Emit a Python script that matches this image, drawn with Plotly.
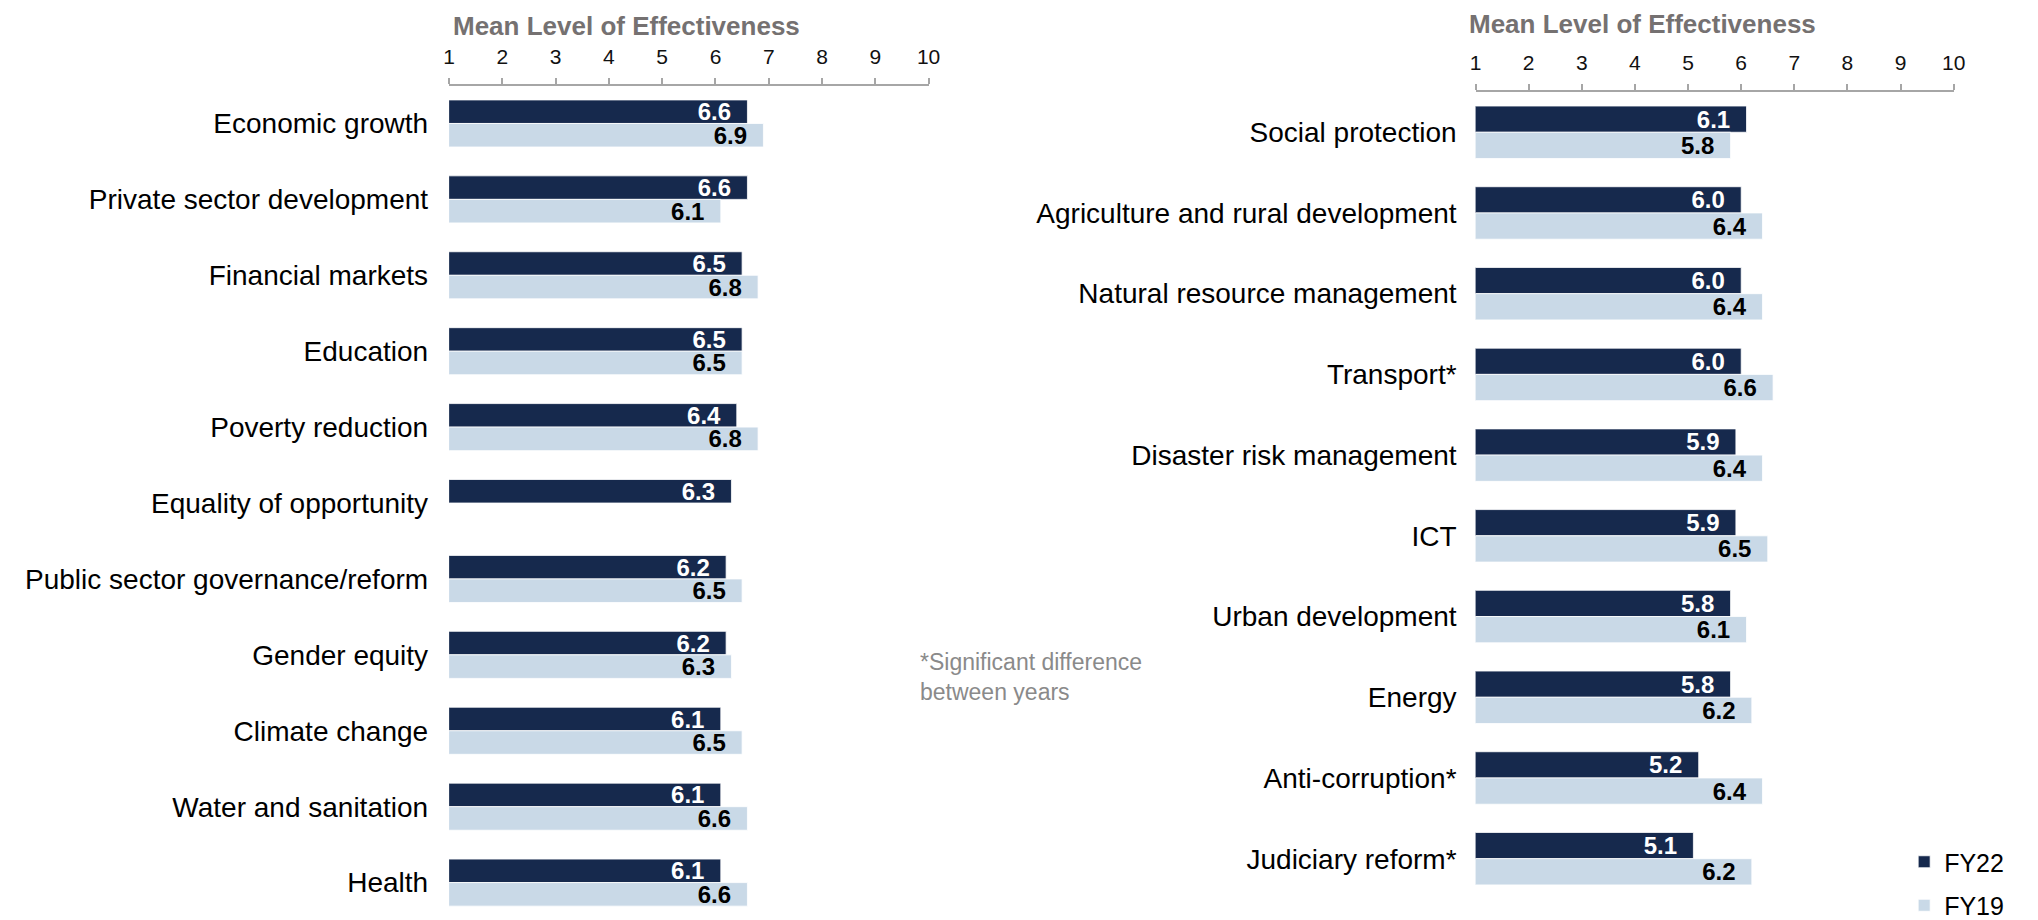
import plotly.graph_objects as go

# ---------------- data ----------------
left_categories = [
    "Economic growth", "Private sector development", "Financial markets", "Education",
    "Poverty reduction", "Equality of opportunity", "Public sector governance/reform",
    "Gender equity", "Climate change", "Water and sanitation", "Health",
]
left_fy22 = [6.6, 6.6, 6.5, 6.5, 6.4, 6.3, 6.2, 6.2, 6.1, 6.1, 6.1]
left_fy19 = [6.9, 6.1, 6.8, 6.5, 6.8, None, 6.5, 6.3, 6.5, 6.6, 6.6]

right_categories = [
    "Social protection", "Agriculture and rural development", "Natural resource management",
    "Transport*", "Disaster risk management", "ICT", "Urban development", "Energy",
    "Anti-corruption*", "Judiciary reform*",
]
right_fy22 = [6.1, 6.0, 6.0, 6.0, 5.9, 5.9, 5.8, 5.8, 5.2, 5.1]
right_fy19 = [5.8, 6.4, 6.4, 6.6, 6.4, 6.5, 6.1, 6.2, 6.4, 6.2]

tick_values = [1, 2, 3, 4, 5, 6, 7, 8, 9, 10]
tick_labels = ["1", "2", "3", "4", "5", "6", "7", "8", "9", "10"]
axis_title = "Mean Level of Effectiveness"
note_text = "*Significant difference<br>between years"

# ---------------- style ----------------
W, H = 2038, 920
DARK = "#16294d"
LIGHT = "#c9d9e7"
FONT = "Liberation Sans, Arial, sans-serif"
PAD = "\u00a0\u00a0"


def px_x(p):
    return p / W


def px_y(p):
    return 1 - p / H


fig = go.Figure()


def add_pair(cats, v22, v19, xa, ya, show, w):
    fig.add_trace(go.Bar(
        y=cats, x=v22, orientation="h", name="FY22", legendgroup="FY22",
        showlegend=show, xaxis=xa, yaxis=ya, width=w, offset=-w,
        marker=dict(color=DARK, line=dict(color="#ffffff", width=0.8)),
        text=[f"{v:.1f}{PAD}" for v in v22],
        textposition="inside", insidetextanchor="end", textangle=0,
        constraintext="none",
        textfont=dict(family=FONT, size=24, color="#ffffff", weight="bold"),
        hoverinfo="skip",
    ))
    fig.add_trace(go.Bar(
        y=cats, x=v19, orientation="h", name="FY19", legendgroup="FY19",
        showlegend=show, xaxis=xa, yaxis=ya, width=w, offset=0,
        marker=dict(color=LIGHT, line=dict(color="#ffffff", width=0.8)),
        text=[("" if v is None else f"{v:.1f}{PAD}") for v in v19],
        textposition="inside", insidetextanchor="end", textangle=0,
        constraintext="none",
        textfont=dict(family=FONT, size=24, color="#000000", weight="bold"),
        hoverinfo="skip",
    ))


add_pair(left_categories, left_fy22, left_fy19, "x", "y", False, 0.31)
add_pair(right_categories, right_fy22, right_fy19, "x2", "y2", True, 0.325)

xaxis_common = dict(
    range=[1, 10], side="top", tickmode="array", tickvals=tick_values, ticktext=tick_labels,
    showgrid=False, zeroline=False, showline=True, linecolor="#a6a6a6", linewidth=1.5,
    ticks="outside", ticklen=6, tickcolor="#a6a6a6", tickwidth=1.5,
    tickfont=dict(family=FONT, size=21, color="#111111"), ticklabelstandoff=6,
    fixedrange=True,
)
yaxis_common = dict(
    type="category", showgrid=False, zeroline=False, showline=False, ticks="",
    tickfont=dict(family=FONT, size=28, color="#000000"), fixedrange=True,
)

fig.update_layout(
    width=W, height=H,
    margin=dict(l=0, r=0, t=0, b=0),
    paper_bgcolor="#ffffff", plot_bgcolor="#ffffff",
    barmode="group",
    font=dict(family=FONT),
    xaxis=dict(domain=[px_x(439), px_x(922.7)], anchor="y", **xaxis_common),
    yaxis=dict(domain=[0, px_y(79)], anchor="x", range=[10.44, -0.494],
               ticklabelstandoff=20, **yaxis_common),
    xaxis2=dict(domain=[px_x(1474.6), px_x(1957)], anchor="y2", **xaxis_common),
    yaxis2=dict(domain=[0, px_y(85)], anchor="x2", range=[9.71, -0.5],
                ticklabelstandoff=18, **yaxis_common),
    legend=dict(
        x=px_x(1907), y=px_y(842), xanchor="left", yanchor="top",
        font=dict(family=FONT, size=25, color="#000000"),
        bgcolor="rgba(0,0,0,0)", traceorder="grouped", tracegroupgap=8,
    ),
    showlegend=True,
)

ann_font = dict(family=FONT, size=26, color="#757171", weight="bold")
fig.add_annotation(text=axis_title, xref="paper", yref="paper", x=px_x(441), y=px_y(18),
                   xanchor="left", yanchor="middle", showarrow=False, font=ann_font)
fig.add_annotation(text=axis_title, xref="paper", yref="paper", x=px_x(1466), y=px_y(16),
                   xanchor="left", yanchor="middle", showarrow=False, font=ann_font)
fig.add_annotation(text=note_text, xref="paper", yref="paper", x=px_x(912), y=px_y(678),
                   xanchor="left", yanchor="middle", align="left", showarrow=False,
                   font=dict(family=FONT, size=23, color="#8a8a8a"))

fig.write_html("out.html")
